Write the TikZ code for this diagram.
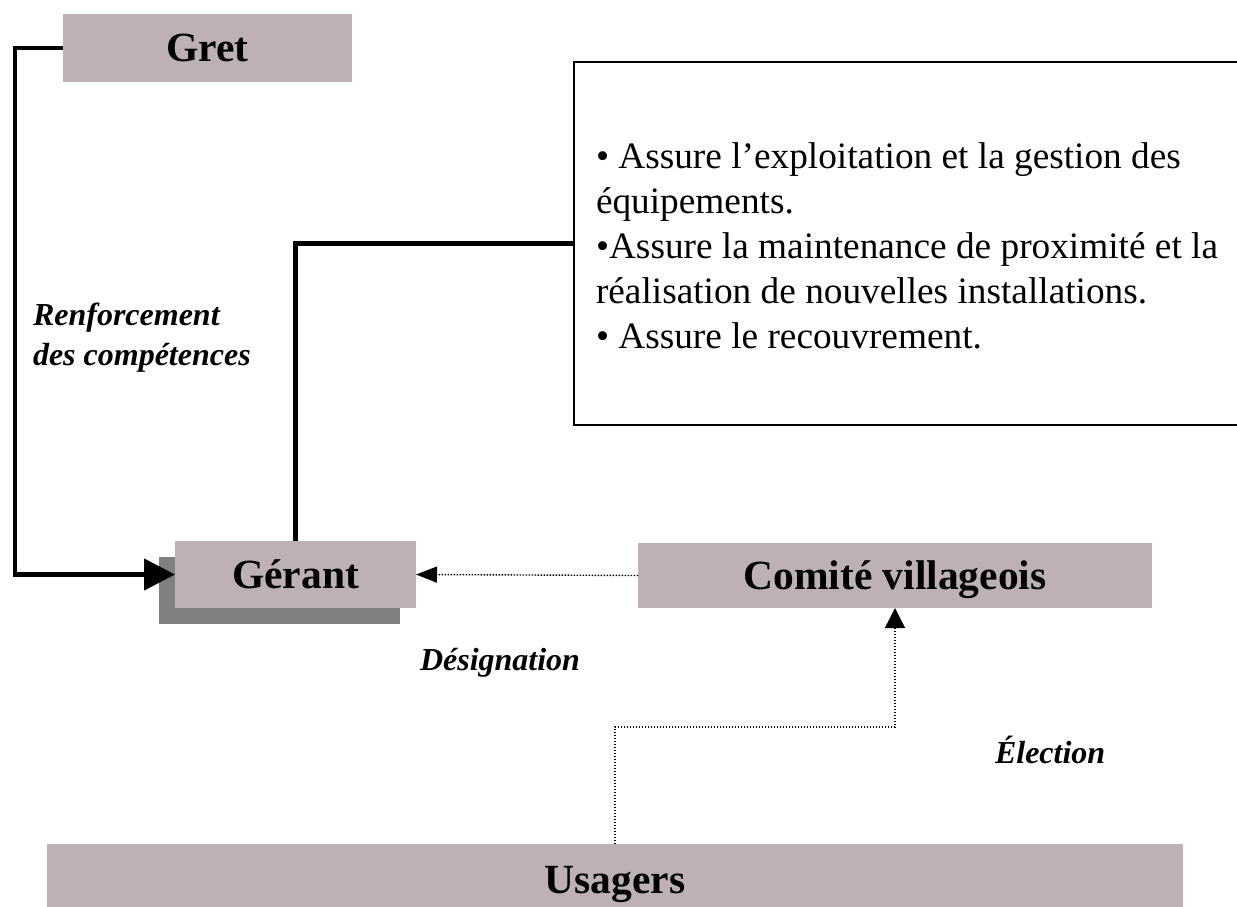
\documentclass[tikz,border=0pt]{standalone}
\usepackage{fontspec}
\setmainfont{Liberation Serif}
\usetikzlibrary{arrows.meta,shadows}
\definecolor{boxfill}{RGB}{189,177,181}
\definecolor{shadowgray}{RGB}{128,128,128}
\begin{document}
\begin{tikzpicture}[x=1pt,y=-1pt,
  every node/.style={inner sep=0pt, outer sep=0pt},
  actor/.style={fill=boxfill, anchor=north west, text depth=0pt,
    font=\fontsize{41.5}{50}\selectfont\bfseries},
  tag/.style={anchor=base west, text width=320pt, align=flush left,
    font=\fontsize{32}{40}\selectfont\bfseries\itshape},
  heavy/.style={line width=4.5pt},
  dotline/.style={line width=1.4pt, dash pattern=on 1.4pt off 1.6pt},
  bigtip/.style={-{Triangle[length=31pt,width=31pt]}},
  smalltip/.style={-{Triangle[length=21pt,width=16pt]}},
  uptip/.style={-{Triangle[length=20pt,width=20pt]}},
]
\useasboundingbox (0,0) rectangle (1237,906);
\clip (0,0) rectangle (1237,906);

% actors
\node[actor, minimum width=289pt, minimum height=68pt] (gret) at (63,14) {Gret};
\node[actor, minimum width=241pt, minimum height=67pt,
  drop shadow={shadow xshift=-16pt, shadow yshift=-16pt, fill=shadowgray, opacity=1}]
  (gerant) at (175,541) {Gérant};
\node[actor, minimum width=514pt, minimum height=65pt] (comite) at (638,543) {Comité villageois};
\node[actor, minimum width=1136pt, minimum height=72pt] (usagers) at (47,844) {Usagers};

% duties of the manager
\node[draw, line width=1.8pt, anchor=north west, minimum width=700pt, minimum height=363pt]
  (tbox) at (574,62) {};
\node[anchor=base west, text width=660pt, align=flush left,
  font=\fontsize{37.3}{45}\selectfont] (duties) at (596,168)
  {• Assure l’exploitation et la gestion des\\
   équipements.\\
   •Assure la maintenance de proximité et la\\
   réalisation de nouvelles installations.\\
   • Assure le recouvrement.};

% labels
\node[tag] (renf) at (33,325) {Renforcement\\des compétences};
\node[tag] (desig) at (420,670) {Désignation};
\node[tag] (elect) at (995,763) {Élection};

% connectors
\draw[heavy, bigtip] (gret.west) -- ++(-48,0) |- (gerant.west);
\draw[heavy] (gerant.north) |- (tbox.west);
\draw[dotline, smalltip] (comite.west) -- (gerant.east);
\draw[dotline, uptip] (usagers.north) -- ++(0,-117) -| (comite.south);
\end{tikzpicture}
\end{document}
